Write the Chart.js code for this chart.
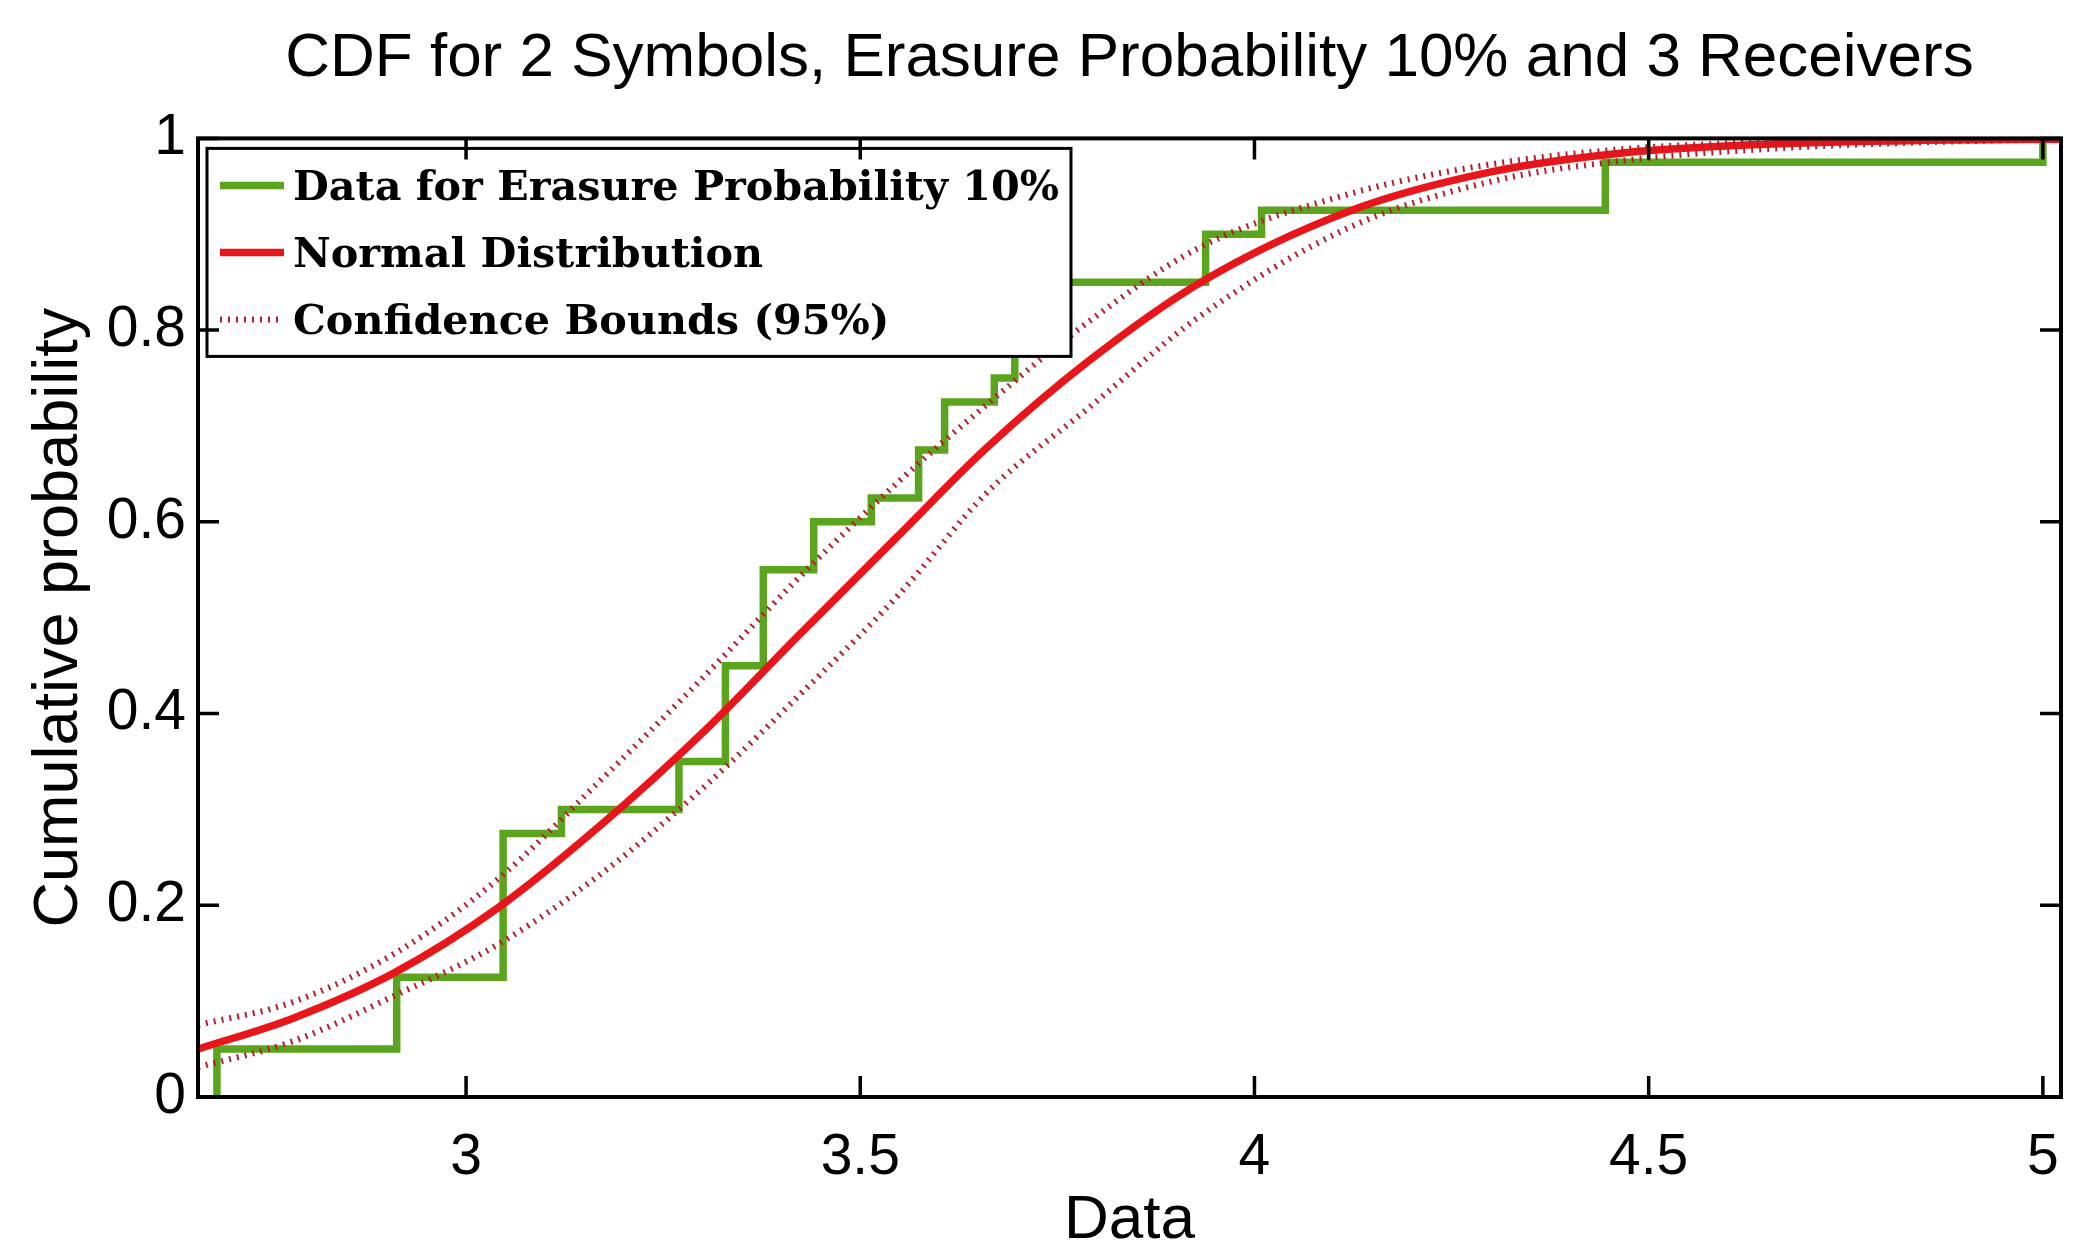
<!DOCTYPE html>
<html>
<head>
<meta charset="utf-8">
<title>CDF</title>
<script src="https://cdn.jsdelivr.net/npm/chart.js@4.4.0/dist/chart.umd.min.js"></script>
<style>
  html, body { margin: 0; padding: 0; background: #fff; }
  #wrap { width: 2100px; height: 1252px; }
</style>
</head>
<body>
<div id="wrap"><canvas id="cdfChart" width="2100" height="1252"></canvas></div>
<script>
// Valores
const xTicks = [3, 3.5, 4, 4.5, 5];
const yTicks = [0, 0.2, 0.4, 0.6, 0.8, 1];

// CDF empirica: posicion de cada salto y nivel despues del salto
const stepX = [2.684, 2.684, 2.912, 3.047, 3.121, 3.270, 3.329, 3.377, 3.441, 3.514, 3.574, 3.607, 3.670, 3.696, 3.938, 4.009, 4.445, 5.000];
const stepY = [0, 0.05, 0.125, 0.275, 0.30, 0.35, 0.45, 0.55, 0.60, 0.625, 0.675, 0.725, 0.75, 0.85, 0.90, 0.925, 0.975, 1.0];

// Curva normal ajustada y limites de confianza (95%)
const fitX    = [2.66, 2.78, 2.91, 3.04, 3.17, 3.30, 3.42, 3.55, 3.66, 3.79, 3.93, 4.12, 4.30, 4.47, 4.65, 4.85, 5.023];
const normalY = [0.050, 0.082, 0.130, 0.197, 0.283, 0.380, 0.480, 0.587, 0.677, 0.768, 0.849, 0.924, 0.965, 0.985, 0.994, 0.998, 0.999];
const upperY  = [0.075, 0.099, 0.150, 0.227, 0.330, 0.437, 0.540, 0.643, 0.722, 0.809, 0.886, 0.942, 0.973, 0.989, 0.996, 0.999, 1.000];
const lowerY  = [0.031, 0.058, 0.106, 0.159, 0.232, 0.322, 0.417, 0.525, 0.630, 0.719, 0.814, 0.907, 0.955, 0.977, 0.989, 0.996, 0.999];

const toPoints = (xs, ys) => xs.map((x, i) => ({ x: x, y: ys[i] }));

// Leyenda dentro del area de la grafica, con fondo blanco y borde negro
const legendBox = {
    id: 'legendBox',
    afterDatasetsDraw(chart) {
        const ctx = chart.ctx;
        const area = chart.chartArea;
        const items = chart.data.datasets.filter(d => !d.noLegend);
        const left = area.left + 9;
        const top = area.top + 10;
        const rowH = 67;
        const textX = left + 86;

        ctx.save();
        ctx.font = 'bold 41.3px "DejaVu Serif"';
        const maxW = Math.max(...items.map(d => ctx.measureText(d.label).width));
        const boxW = textX - left + maxW + 12;
        const boxH = rowH * items.length + 7;

        ctx.fillStyle = '#fff';
        ctx.fillRect(left, top, boxW, boxH);
        ctx.strokeStyle = '#000';
        ctx.lineWidth = 3;
        ctx.strokeRect(left, top, boxW, boxH);

        items.forEach((d, i) => {
            const cy = top + 37 + i * rowH;
            ctx.strokeStyle = d.borderColor;
            ctx.lineWidth = d.borderWidth;
            ctx.setLineDash(d.borderDash || []);
            ctx.beginPath();
            ctx.moveTo(left + 13, cy);
            ctx.lineTo(left + 77, cy);
            ctx.stroke();
            ctx.setLineDash([]);
            ctx.fillStyle = '#000';
            ctx.textBaseline = 'middle';
            ctx.textAlign = 'left';
            ctx.fillText(d.label, textX, cy + 4);
        });
        ctx.restore();
    }
};

// Caja de ejes al estilo Matlab, con marcas hacia dentro en los cuatro lados
const matlabFrame = {
    id: 'matlabFrame',
    afterDraw(chart) {
        const ctx = chart.ctx;
        const a = chart.chartArea;
        const xs = chart.scales.x;
        const ys = chart.scales.y;
        const len = 21;

        ctx.save();
        ctx.strokeStyle = '#000';
        ctx.lineWidth = 3.5;
        ctx.beginPath();
        xTicks.forEach(v => {
            const px = xs.getPixelForValue(v);
            ctx.moveTo(px, a.bottom);
            ctx.lineTo(px, a.bottom - len);
            ctx.moveTo(px, a.top);
            ctx.lineTo(px, a.top + len);
        });
        yTicks.forEach(v => {
            const py = ys.getPixelForValue(v);
            ctx.moveTo(a.left, py);
            ctx.lineTo(a.left + len, py);
            ctx.moveTo(a.right, py);
            ctx.lineTo(a.right - len, py);
        });
        ctx.stroke();
        ctx.lineWidth = 4;
        ctx.strokeRect(a.left, a.top, a.right - a.left, a.bottom - a.top);
        ctx.restore();
    }
};

const ctx = document.getElementById('cdfChart').getContext('2d');
new Chart(ctx, {
    type: 'line',
    data: {
        datasets: [
            {
                label: 'Data for Erasure Probability 10%',
                data: toPoints(stepX, stepY),
                borderColor: '#5ba41e',
                borderWidth: 7.5,
                stepped: true,
                order: 3
            },
            {
                label: 'Normal Distribution',
                data: toPoints(fitX, normalY),
                borderColor: '#e8161a',
                borderWidth: 7.5,
                cubicInterpolationMode: 'monotone',
                order: 2
            },
            {
                label: 'Confidence Bounds (95%)',
                data: toPoints(fitX, upperY),
                borderColor: '#b3202c',
                borderWidth: 6,
                borderDash: [2, 6],
                cubicInterpolationMode: 'monotone',
                order: 1
            },
            {
                label: 'Confidence Bounds (95%)',
                noLegend: true,
                data: toPoints(fitX, lowerY),
                borderColor: '#b3202c',
                borderWidth: 6,
                borderDash: [2, 6],
                cubicInterpolationMode: 'monotone',
                order: 1
            }
        ]
    },
    options: {
        responsive: false,
        animation: false,
        devicePixelRatio: 1,
        elements: { point: { radius: 0 }, line: { fill: false } },
        layout: { padding: { left: 0, right: 39, top: 0, bottom: 0 } },
        plugins: {
            legend: { display: false },
            tooltip: { enabled: false },
            title: {
                display: true,
                text: 'CDF for 2 Symbols, Erasure Probability 10% and 3 Receivers',
                color: '#000',
                fullSize: false,
                font: { family: '"Liberation Sans", Arial, sans-serif', size: 62, weight: 'normal', lineHeight: 1.2 },
                padding: { top: 22, bottom: 42 }
            }
        },
        scales: {
            x: {
                type: 'linear',
                min: 2.66,
                max: 5.023,
                afterBuildTicks: s => { s.ticks = xTicks.map(v => ({ value: v })); },
                afterFit: s => { s.height = 155; },
                grid: { display: false },
                border: { display: false },
                ticks: {
                    color: '#000',
                    padding: 19,
                    maxRotation: 0,
                    font: { family: '"Liberation Sans", Arial, sans-serif', size: 57 },
                    callback: v => String(v)
                },
                title: {
                    display: true,
                    text: 'Data',
                    color: '#000',
                    font: { family: '"Liberation Sans", Arial, sans-serif', size: 62, lineHeight: 1.0 },
                    padding: { top: 0, bottom: 0 }
                }
            },
            y: {
                type: 'linear',
                min: 0,
                max: 1,
                afterBuildTicks: s => { s.ticks = yTicks.map(v => ({ value: v })); },
                afterFit: s => { s.width = 198; },
                grid: { display: false },
                border: { display: false },
                ticks: {
                    color: '#000',
                    padding: 4,
                    font: { family: '"Liberation Sans", Arial, sans-serif', size: 57 },
                    callback: v => String(v)
                },
                title: {
                    display: true,
                    text: 'Cumulative probability',
                    color: '#000',
                    font: { family: '"Liberation Sans", Arial, sans-serif', size: 63, lineHeight: 1.2 },
                    padding: { top: 22, bottom: 0 }
                }
            }
        }
    },
    plugins: [legendBox, matlabFrame]
});
</script>
</body>
</html>
